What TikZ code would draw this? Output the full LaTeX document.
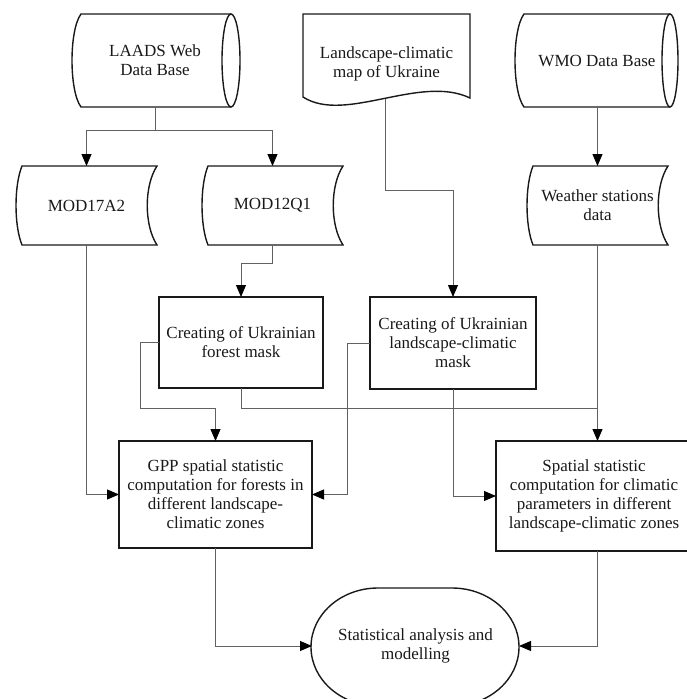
\documentclass[tikz,border=0pt]{standalone}
\usepackage{fontspec}
\setmainfont{Liberation Serif}
\usetikzlibrary{arrows.meta,calc}
\newcommand{\mystoreddata}[4]{%
  \draw[shapeline] (#1,#3) -- (#2,#3)
    .. controls ({#2-13},{#3+0.25*(#4-#3)}) and ({#2-13},{#4-0.25*(#4-#3)}) .. (#2,#4)
    -- (#1,#4)
    .. controls ({#1-8},{#4-0.25*(#4-#3)}) and ({#1-8},{#3+0.25*(#4-#3)}) .. (#1,#3) -- cycle;}
\begin{document}
\begin{tikzpicture}[x=1pt,y=-1pt,
  shapeline/.style={line width=1.4pt,draw=black!90},
  txt/.style={align=center,font=\fontsize{17}{19}\selectfont,inner sep=0pt,outer sep=0pt,text=black!90,shape=rectangle},
  rbox/.style={txt,shapeline},
  conn/.style={line width=0.9pt,draw=black!62},
  arr/.style={conn,-{Triangle[length=12pt,width=10pt,color=black]}}]
\useasboundingbox (0,0) rectangle (687,699);
\clip (0,0) rectangle (687,699);

% ---- top row ----
\draw[shapeline] (231,14) -- (81,14) .. controls (69,30) and (69,91) .. (81,107) -- (231,107);
\draw[shapeline] (231,60.5) ellipse [x radius=9, y radius=46.5];
\node[txt,minimum width=166pt,minimum height=93pt] (laads) at (155,60.5) {LAADS Web\\Data Base};

\draw[shapeline] (303,97) -- (303,14) -- (470,14) -- (470,98)
  .. controls (420,74) and (345,124) .. (303,97) -- cycle;
\node[txt,minimum width=167pt,minimum height=84pt] (map) at (386.5,63.5) {Landscape-climatic\\map of Ukraine};
\coordinate (mapb) at (385,98.6);

\draw[shapeline] (670,14) -- (524,14) .. controls (512,30) and (512,91) .. (524,107) -- (670,107);
\draw[shapeline] (670,60.5) ellipse [x radius=8, y radius=46.5];
\node[txt,minimum width=164pt,minimum height=93pt] (wmo) at (597,61) {WMO Data Base};

% ---- stored data row ----
\mystoreddata{22}{157}{166}{245}
\node[txt,minimum width=141pt,minimum height=79pt] (mod17) at (86.5,205.5) {MOD17A2};
\mystoreddata{208}{343}{166}{245}
\node[txt,minimum width=141pt,minimum height=79pt] (mod12) at (272.5,205.5) {MOD12Q1};
\mystoreddata{533}{668}{166}{245}
\node[txt,minimum width=141pt,minimum height=79pt] (weather) at (597.5,205.5) {Weather stations\\data};

% ---- masks ----
\node[rbox,minimum width=164pt,minimum height=91pt] (fmask) at (241,342.5) {Creating of Ukrainian\\forest mask};
\node[rbox,minimum width=166pt,minimum height=92pt] (lmask) at (453,343) {Creating of Ukrainian\\landscape-climatic\\mask};

% ---- computations ----
\node[rbox,minimum width=193pt,minimum height=107pt] (gpp) at (215.5,494.5) {GPP spatial statistic\\computation for forests in\\different landscape-\\climatic zones};
\node[rbox,minimum width=196pt,minimum height=110pt] (spatial) at (594,496) {Spatial statistic\\computation for climatic\\parameters in different\\landscape-climatic zones};

% ---- terminal ----
\draw[shapeline] (378,588) -- (452,588) arc[start angle=-90, end angle=90, x radius=67, y radius=59]
  -- (378,706) arc[start angle=90, end angle=270, x radius=67, y radius=59] -- cycle;
\node[txt,minimum width=207pt,minimum height=118pt] (term) at (415.5,646) {Statistical analysis and\\modelling};

% ---- connectors ----
\coordinate (lsplit) at (155,130);
\draw[conn] (laads.south) -- (lsplit);
\draw[arr] (lsplit) -| (mod17.north);
\draw[arr] (lsplit) -| (mod12.north);
\draw[arr] (mapb) -- (385,190) -| (lmask.north);
\draw[arr] (weather.north |- wmo.south) -- (weather.north);
\draw[arr] (mod12.south) -- ++(0,18) -| (fmask.north);
\draw[arr] (mod17.south) |- (gpp.west);
\draw[arr] (fmask.west) -- ++(-19,0) |- ($(gpp.north)+(0,-33)$) -- (gpp.north);
\coordinate (join) at (597.5,408);
\draw[conn] (fmask.south) |- (join);
\draw[arr] (weather.south) -- (weather.south |- spatial.north);
\draw[arr] (lmask.west) -- ++(-23,0) |- (gpp.east);
\draw[arr] (lmask.south) |- (spatial.west);
\draw[arr] (gpp.south) |- (term.west);
\draw[arr] (spatial.south -| weather.south) |- (term.east);
\end{tikzpicture}
\end{document}
